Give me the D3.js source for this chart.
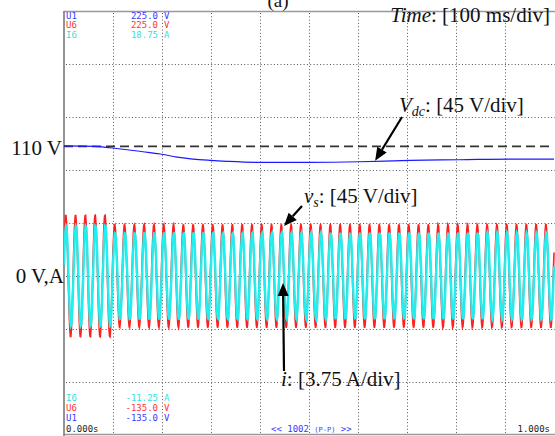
<!DOCTYPE html>
<html><head><meta charset="utf-8">
<script src="https://cdn.jsdelivr.net/npm/d3@7"></script>
<style>html,body{margin:0;padding:0;background:#fff;overflow:hidden}</style>
</head><body>
<svg id="c" width="555" height="436"></svg>
<script>
// Scope screen: 10 time divisions of 100 ms, 8 vertical divisions
const timeSpan = [0, 1.0];                 // s
const timeLabels = ["0.000s", "1.000s"];
const timeDivs = 10, vertDivs = 8;
const voltRange = [-135, 225];             // U1 / U6 channels, 45 V/div
const currRange = [-11.25, 18.75];         // I6 channel, 3.75 A/div
const channelNames = ["U1", "U6", "I6"];
const channelUnits = ["V", "V", "A"];
const channelColors = ["#3a3aff", "#ff3333", "#33e0e0"];
const recordLength = 1002;

// DC-link voltage Vdc (V) against time (s)
const vdcTime  = [0, 0.06, 0.094, 0.161, 0.196, 0.231, 0.263, 0.298, 0.333, 0.4, 0.502, 0.604, 0.706, 0.808, 0.91, 1.0];
const vdcValue = [110.4, 110.1, 108.9, 105.5, 103.6, 101.0, 99.3, 98.2, 97.4, 96.5, 96.5, 97.0, 98.2, 98.7, 99.3, 99.3];
const vdcReference = 110;

// Grid quantities: 50 Hz supply, peak value in each 100 ms division
const mainsFrequency = 50;                 // Hz
const vsFirstPeak = 0.0035;                // s
const iFirstPeak = 0.0043;                 // s
const vsPeak = [52, 44, 44, 44, 44, 44, 44, 44, 44, 44];                 // V
const iPeak  = [3.55, 3.05, 3.05, 3.05, 3.05, 3.05, 3.05, 3.05, 3.05, 3.05]; // A

const L = 64, R = 554, T = 11, B = 435;
const svg = d3.select("#c");

const x = d3.scaleLinear().domain(timeSpan).range([L, R]);
const yV = d3.scaleLinear().domain(voltRange).range([B, T]);
const yI = d3.scaleLinear().domain(currRange).range([B, T]);

// sampled record
const samples = d3.range(recordLength).map(k => {
  const t = timeSpan[0] + (timeSpan[1] - timeSpan[0]) * k / (recordLength - 1);
  const d = Math.min(timeDivs - 1, Math.floor((t - timeSpan[0]) / (timeSpan[1] - timeSpan[0]) * timeDivs));
  return {
    t,
    vs: vsPeak[d] * Math.cos(2 * Math.PI * mainsFrequency * (t - vsFirstPeak)),
    i: iPeak[d] * Math.cos(2 * Math.PI * mainsFrequency * (t - iFirstPeak))
  };
});

svg.append("clipPath").attr("id", "scr").append("rect")
  .attr("x", L).attr("y", T).attr("width", R - L + 1).attr("height", B - T);

// grid
const grid = svg.append("g").attr("stroke", "#555").attr("stroke-width", 1).attr("stroke-dasharray", "1,2.3");
d3.range(1, timeDivs).forEach(k => {
  const gx = Math.round(L + (R - L) * k / timeDivs) + 0.5;
  grid.append("line").attr("x1", gx).attr("x2", gx).attr("y1", T + 2).attr("y2", B);
});
d3.range(1, vertDivs).forEach(k => {
  const gy = Math.round(T + (B - T) * k / vertDivs) + 0.5;
  grid.append("line").attr("x1", L + 2).attr("x2", R + 1).attr("y1", gy).attr("y2", gy);
});

svg.append("line").attr("x1", L).attr("x2", 555).attr("y1", T + 0.5).attr("y2", T + 0.5)
  .attr("stroke", "#999").attr("stroke-width", 1.6);
svg.append("line").attr("x1", L).attr("x2", 555).attr("y1", B - 0.5).attr("y2", B - 0.5)
  .attr("stroke", "#999").attr("stroke-width", 1.6);
svg.append("line").attr("x1", L).attr("x2", L).attr("y1", T).attr("y2", 436)
  .attr("stroke", "#888").attr("stroke-width", 1.8);

// Vdc reference level
svg.append("line").attr("x1", L).attr("x2", R).attr("y1", yV(vdcReference)).attr("y2", yV(vdcReference))
  .attr("stroke", "#333").attr("stroke-width", 1.8).attr("stroke-dasharray", "9,5");

const traces = svg.append("g").attr("clip-path", "url(#scr)");

// Vdc trace
traces.append("path")
  .datum(vdcTime.map((t, k) => [t, vdcValue[k]]))
  .attr("fill", "none").attr("stroke", "#1a1aff").attr("stroke-width", 1.2)
  .attr("d", d3.line().x(d => x(d[0])).y(d => yV(d[1])).curve(d3.curveMonotoneX));

// vs trace
traces.append("path").datum(samples)
  .attr("fill", "none").attr("stroke", "#ff1f1f").attr("stroke-width", 1.6)
  .attr("d", d3.line().x(d => x(d.t)).y(d => yV(d.vs)));

// i trace
traces.append("path").datum(samples)
  .attr("fill", "none").attr("stroke", "#22eeee").attr("stroke-width", 2.4)
  .attr("d", d3.line().x(d => x(d.t)).y(d => yI(d.i)));

// channel readouts
const mono = "'DejaVu Sans Mono', monospace";
const fs = 9;
const fmt = (v, k) => channelUnits[k] === "A" ? v.toFixed(2) : v.toFixed(1);
const topVals = channelNames.map((n, k) => channelUnits[k] === "A" ? currRange[1] : voltRange[1]);
const botVals = channelNames.map((n, k) => channelUnits[k] === "A" ? currRange[0] : voltRange[0]);
function readout(k, yp, v) {
  const g = svg.append("g").attr("font-family", mono).attr("font-size", fs).attr("fill", channelColors[k]);
  g.append("text").attr("x", 66).attr("y", yp).text(channelNames[k]);
  g.append("text").attr("x", 158).attr("y", yp).attr("text-anchor", "end").text(fmt(v, k));
  g.append("text").attr("x", 164).attr("y", yp).text(channelUnits[k]);
}
const topRows = [19, 28.3, 37.7];
channelNames.forEach((n, k) => readout(k, topRows[k], topVals[k]));
const botRows = [420.5, 410.5, 400.8];
channelNames.forEach((n, k) => readout(k, botRows[k], botVals[k]));

svg.append("text").attr("x", 66).attr("y", 432).attr("font-family", mono).attr("font-size", fs)
  .attr("fill", "#222").text(timeLabels[0]);
svg.append("text").attr("x", 550).attr("y", 432).attr("text-anchor", "end").attr("font-family", mono)
  .attr("font-size", fs).attr("fill", "#222").text(timeLabels[1]);
const rec = svg.append("text").attr("x", 271).attr("y", 431.5).attr("font-family", mono)
  .attr("font-size", fs).attr("fill", "#3a3aff");
rec.append("tspan").text("<< " + recordLength + " ");
rec.append("tspan").attr("font-size", 7).text("(P-P)");
rec.append("tspan").text(" >>");

// annotations
const serif = "'Liberation Serif', 'Times New Roman', serif";
function label(xp, yp, parts, anchor) {
  const t = svg.append("text").attr("x", xp).attr("y", yp).attr("font-family", serif)
    .attr("font-size", 21).attr("fill", "#111").attr("text-anchor", anchor || "start");
  parts.forEach(p => {
    const s = t.append("tspan").text(p.s);
    if (p.it) s.attr("font-style", "italic");
    if (p.sub) s.attr("font-size", 14).attr("dy", 4);
    if (p.up) s.attr("dy", -4);
  });
}
svg.append("text").attr("x", 278).attr("y", 7).attr("text-anchor", "middle")
  .attr("font-family", serif).attr("font-size", 19).attr("fill", "#111").text("(a)");
label(550, 22, [{s: "Time", it: true}, {s: ": [100 ms/div]"}], "end");
label(62, 155, [{s: vdcReference + " V"}], "end");
label(64, 283, [{s: "0 V,A"}], "end");
label(399, 112, [{s: "V", it: true}, {s: "dc", it: true, sub: true}, {s: ": [45 V/div]", up: true}]);
label(304, 203, [{s: "v", it: true}, {s: "s", it: true, sub: true}, {s: ": [45 V/div]", up: true}]);
label(281, 386, [{s: "i", it: true}, {s: ": [3.75 A/div]"}]);

function arrow(x1, y1, x2, y2) {
  const a = Math.atan2(y2 - y1, x2 - x1), len = 13, w = 5.5;
  const bx = x2 - len * Math.cos(a), by = y2 - len * Math.sin(a);
  svg.append("line").attr("x1", x1).attr("y1", y1).attr("x2", bx).attr("y2", by)
    .attr("stroke", "#000").attr("stroke-width", 2.2);
  svg.append("path").attr("fill", "#000").attr("d",
    `M${x2},${y2}L${bx + w * Math.sin(a)},${by - w * Math.cos(a)}L${bx - w * Math.sin(a)},${by + w * Math.cos(a)}Z`);
}
arrow(402, 117, x(0.635), yV(97.8));
arrow(302, 206, 284, 226);
arrow(284, 371, 283, 283);
</script>
</body></html>
